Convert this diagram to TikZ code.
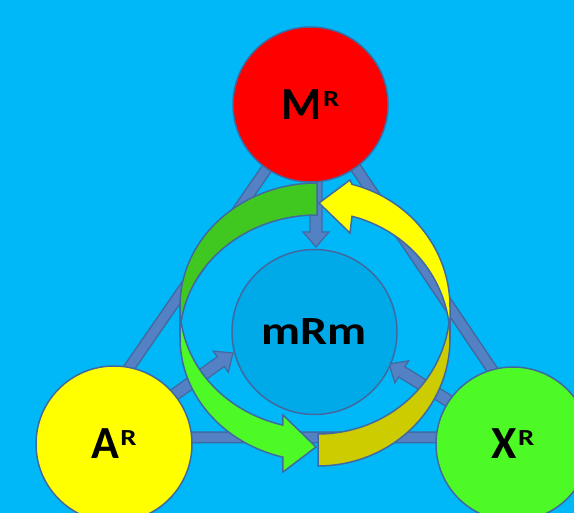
\documentclass[tikz,border=0pt]{standalone}
\usepackage{fontspec}
\setmainfont{Carlito}
\usetikzlibrary{calc}
\definecolor{bg}{RGB}{0,184,248}
\definecolor{core}{RGB}{0,170,232}
\definecolor{edge}{RGB}{65,105,160}
\definecolor{bar}{RGB}{84,128,196}
\definecolor{gback}{RGB}{64,200,32}
\definecolor{gfront}{RGB}{78,250,38}
\definecolor{yback}{RGB}{204,204,0}
\definecolor{yfront}{RGB}{255,255,0}
\definecolor{mred}{RGB}{255,0,0}
\definecolor{ayel}{RGB}{255,255,0}
\definecolor{xgrn}{RGB}{78,250,38}
\newcommand\lblfont{\bfseries\fontsize{46}{46}\selectfont}
\newcommand\suplbl[1]{#1\kern1pt\raisebox{13pt}{\fontsize{23}{23}\selectfont\scalebox{1.25}[1]{R}}}
\newcommand\blockarr[2]{%
  \coordinate (bah) at ($(#2)!15pt!(#1)$);
  \filldraw[blockarrow] ($(#1)!6pt!90:(#2)$) -- ($(bah)!6pt!-90:(#1)$) -- ($(bah)!13pt!-90:(#1)$) -- (#2) -- ($(bah)!13pt!90:(#1)$) -- ($(bah)!6pt!90:(#1)$) -- ($(#1)!6pt!-90:(#2)$) -- cycle;}
\tikzset{
  ball/.style={circle, draw=edge, line width=1.5pt, inner sep=0pt, minimum size=#1, font=\lblfont},
  barout/.style={draw=edge, line width=12pt, line join=round},
  barin/.style={draw=bar, line width=9pt, line join=round},
  blockarrow/.style={fill=bar, draw=edge, line width=1.2pt, line join=miter},
  band/.style={draw=edge, line width=1.5pt, line join=miter},
}
\begin{document}
\begin{tikzpicture}[x=1pt,y=-1pt]
\path[use as bounding box] (0,0) rectangle (574,513);
\clip (0,0) rectangle (574,513);
\fill[bg] (0,0) rectangle (574,513);
% triangle
\coordinate (t1) at (312,103);
\coordinate (t2) at (81,437.5);
\coordinate (t3) at (538,437.5);
\draw[barout] (t1) -- (t2) -- (t3) -- cycle;
\draw[barin] (t1) -- (t2) -- (t3) -- cycle;
% small block arrows
\coordinate (s1) at (316,150); \coordinate (e1) at (316,247);
\coordinate (s2) at (119,434); \coordinate (e2) at (233,353);
\coordinate (s3) at (507,437); \coordinate (e3) at (389,364);
\blockarr{s1}{e1}
\blockarr{s2}{e2}
\blockarr{s3}{e3}
% circles
\node[ball=156pt, fill=ayel] (A) at (114,444) {\suplbl{A}};
\node[ball=154pt, fill=xgrn] (X) at (513,444) {\suplbl{X}};
\node[ball=155pt, fill=mred, yshift=-2pt] (M) at (310.5,102.5) {\suplbl{M}};
\node[ball=165pt, fill=core, font=\bfseries\fontsize{40}{40}\selectfont, yshift=-3pt] (C) at (314.5,329) {\scalebox{1.2}[1]{mRm}};
% green curved arrow
\filldraw[band, fill=gback] plot[domain=90:180, samples=50, variable=\t] ({317+137*cos(\t)},{306-123*sin(\t)})
  -- plot[domain=180:90, samples=50, variable=\t] ({317+137*cos(\t)},{338-123*sin(\t)}) -- cycle;
\filldraw[band, fill=gfront] plot[domain=180:255.6, samples=50, variable=\t] ({317+137*cos(\t)},{306-123*sin(\t)})
  -- (283,415) -- (316,447) -- (283,472)
  -- plot[domain=255.6:180, samples=50, variable=\t] ({317+137*cos(\t)},{338-123*sin(\t)}) -- cycle;
% yellow curved arrow
\filldraw[band, fill=yback] plot[domain=270:360, samples=50, variable=\t] ({318+132*cos(\t)},{339-127*sin(\t)})
  -- plot[domain=360:270, samples=50, variable=\t] ({318+132*cos(\t)},{307-127*sin(\t)}) -- cycle;
\filldraw[band, fill=yfront] plot[domain=0:75.07, samples=50, variable=\t] ({318+132*cos(\t)},{307-127*sin(\t)})
  -- (350,180) -- (319,203) -- (350,233)
  -- plot[domain=75.07:0, samples=50, variable=\t] ({318+132*cos(\t)},{339-127*sin(\t)}) -- cycle;
\end{tikzpicture}
\end{document}
